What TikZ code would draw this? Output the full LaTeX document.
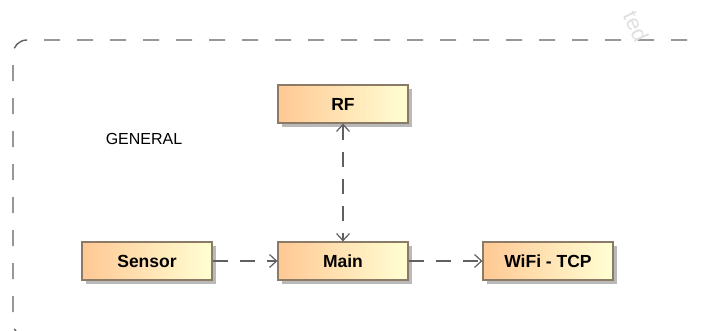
\documentclass[tikz,border=0pt]{standalone}
\usepackage{fontspec}
\setsansfont{Liberation Sans}
\usetikzlibrary{arrows.meta,shadows}

\definecolor{boxleft}{HTML}{FFC894}
\definecolor{boxright}{HTML}{FFFFD4}
\definecolor{boxline}{HTML}{8A7A66}
\definecolor{wire}{HTML}{606060}

\begin{document}
\begin{tikzpicture}[x=1pt, y=-1pt, font=\sffamily]
    \tikzset{
      block/.style={rectangle, draw=boxline, line width=1.2pt, left color=boxleft, right color=boxright,
        minimum width=130pt, minimum height=38pt, font=\sffamily\bfseries\fontsize{17.5}{19}\selectfont,
        drop shadow={shadow xshift=4pt, shadow yshift=-4pt, fill=gray!55, opacity=1}},
      depend/.style={wire, line width=1.2pt, dash pattern=on 15pt off 12pt,
        -{Straight Barb[length=7pt, width=13pt]}},
      frame/.style={wire, line width=1.4pt, dash pattern=on 16pt off 17pt, rounded corners=14pt}
    }
    \useasboundingbox (0,0) rectangle (703,331);
    \clip (0,0) rectangle (703,331);

    % package frame, runs off the page to the right and bottom
    \draw[frame] (720,40) -- (13,40) -- (13,337) -- (720,337);
    \draw (636,26) node (mark) [rotate=-65, text=gray!25, font=\sffamily\fontsize{22}{24}\selectfont] {ted};
    \draw (144,139) node (title) [font=\sffamily\fontsize{16}{18}\selectfont] {GENERAL};

    \draw (343,104) node (rf) [block] {RF};
    \draw (147,261) node (sensor) [block] {Sensor};
    \draw (343,261) node (main) [block] {Main};
    \draw (548,261) node (wifi) [block] {WiFi - TCP};

    \foreach \from/\to in {sensor/main, main/wifi}
      \draw[depend] (\from.east) -- (\to.west);
    \draw[depend, {Straight Barb[length=7pt, width=13pt]}-{Straight Barb[length=7pt, width=13pt]}] (rf.south) -- (main.north);
\end{tikzpicture}
\end{document}
